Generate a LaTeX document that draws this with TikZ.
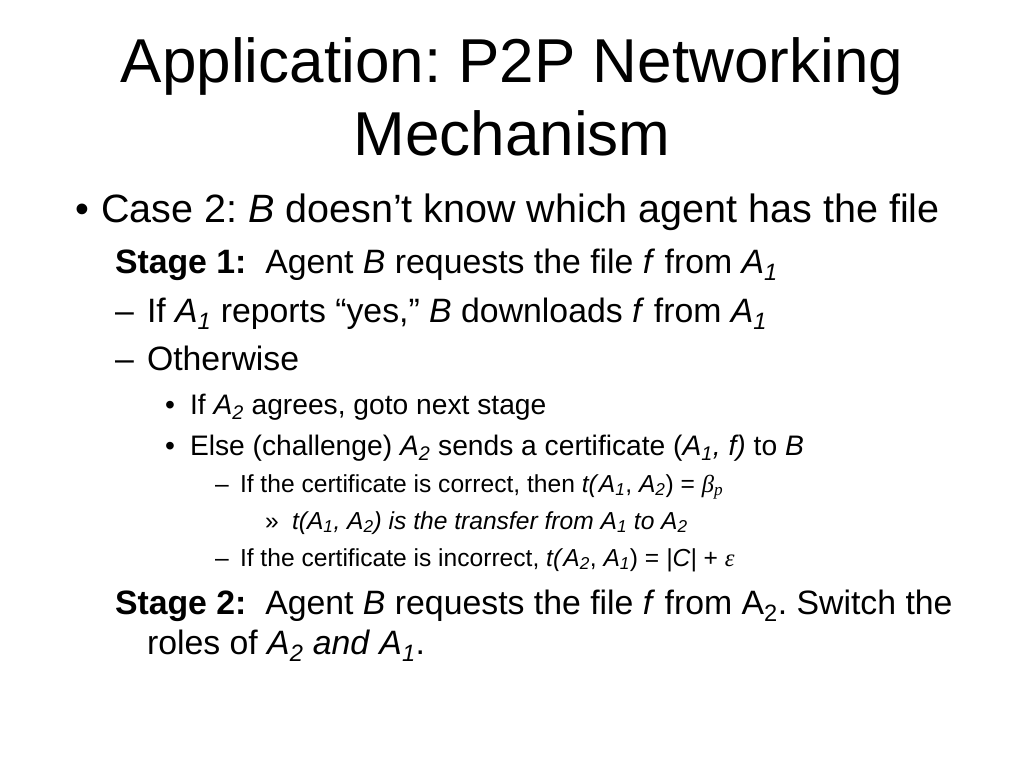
\documentclass[tikz,border=0pt]{standalone}
\usepackage{fontspec}
\setmainfont{Liberation Sans}
\newfontfamily\greekfont{Liberation Serif}
\usepackage{tikz}
\frenchspacing

\tikzset{
  txt/.style={anchor=base west, inner sep=0pt, outer sep=0pt},
  slidetitle/.style={anchor=base, inner sep=0pt, font=\fontsize{62}{74}\selectfont},
  lvlone/.style={txt, font=\fontsize{39.5}{47}\selectfont},
  lvltwo/.style={txt, font=\fontsize{33.8}{40}\selectfont},
  lvlthree/.style={txt, font=\fontsize{28.2}{34}\selectfont},
  lvlfour/.style={txt, font=\fontsize{24.6}{30}\selectfont},
  lvlfive/.style={txt, font=\fontsize{24.6}{30}\selectfont},
}
\newcommand{\Ag}[1]{\textit{A}\textsubscript{\textit{#1}}}
\newcommand{\grk}[1]{{\greekfont\itshape #1}}

\begin{document}
\begin{tikzpicture}[x=1pt,y=-1pt]
\useasboundingbox (0,0) rectangle (1024,768);
%% title
\node[slidetitle] (title1) at (512,82) {Application: P2P Networking};
\node[slidetitle] (title2) at (512,155) {Mechanism};
%% case 2
\node[lvlone] (dot1) at (75,222) {•};
\node[lvlone] (case) at (101,222) {Case 2: \textit{B} doesn’t know which agent has the file};
%% stage 1
\node[lvltwo] (stage1) at (115,273) {\textbf{Stage 1:}\ \ Agent \textit{B} requests the file \textit{f} from \Ag{1}};
\node[lvltwo] (dash1) at (115,322) {–};
\node[lvltwo] (yes) at (147,322) {If \Ag{1} reports “yes,” \textit{B} downloads \textit{f} from \Ag{1}};
\node[lvltwo] (dash2) at (115,370) {–};
\node[lvltwo] (other) at (147,370) {Otherwise};
%% sub bullets
\node[lvlthree] (dot2) at (165,414) {•};
\node[lvlthree] (agree) at (190,414) {If \Ag{2} agrees, goto next stage};
\node[lvlthree] (dot3) at (165,455) {•};
\node[lvlthree] (chal) at (190,455) {Else (challenge) \Ag{2} sends a certificate (\Ag{1}\textit{, f)} to \textit{B}};
\node[lvlfour] (dash3) at (215,492) {–};
\node[lvlfour] (right) at (240,492) {If the certificate is correct, then \textit{t(}\Ag{1}, \Ag{2}) = \grk{β}\textsubscript{\grk{p}}};
\node[lvlfive] (raq) at (265,529) {»};
\node[lvlfive] (trans) at (292,529) {\itshape t(\Ag{1}, \Ag{2}) is the transfer from \Ag{1} to \Ag{2}};
\node[lvlfour] (dash4) at (215,566) {–};
\node[lvlfour] (wrong) at (240,566) {If the certificate is incorrect, \textit{t(}\Ag{2}, \Ag{1}) = \textit{|C|} + \grk{ε}};
%% stage 2
\node[lvltwo] (stage2) at (115,614) {\textbf{Stage 2:}\ \ Agent \textit{B} requests the file \textit{f} from A\textsubscript{2}. Switch the};
\node[lvltwo] (roles) at (147,654) {roles of \Ag{2} \textit{and} \Ag{1}.};
\end{tikzpicture}
\end{document}
